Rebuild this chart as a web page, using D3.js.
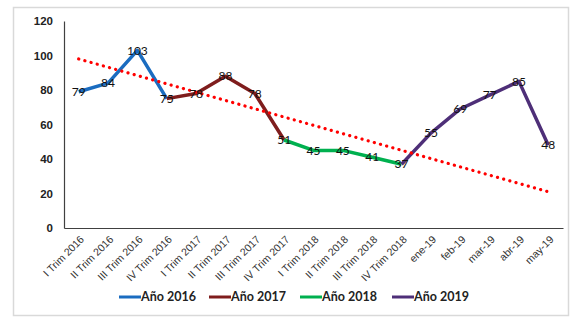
<!DOCTYPE html>
<html>
<head>
<meta charset="utf-8">
<script src="https://cdn.jsdelivr.net/npm/d3@7/dist/d3.min.js"></script>
<style>
  html, body { margin: 0; padding: 0; background: #fff; }
  svg { display: block; font-family: Lato, "Open Sans", "Liberation Sans", sans-serif; }
</style>
</head>
<body>
<svg id="chart" width="580" height="336"></svg>
<script>
// Period labels along the x axis
const categories = [
  "I Trim 2016", "II Trim 2016", "III Trim 2016", "IV Trim 2016",
  "I Trim 2017", "II Trim 2017", "III Trim 2017", "IV Trim 2017",
  "I Trim 2018", "II Trim 2018", "III Trim 2018", "IV Trim 2018",
  "ene-19", "feb-19", "mar-19", "abr-19", "may-19"
];

// Each year's segment: starting category index and values
const names2016 = "Año 2016", start2016 = 0, values2016 = [79, 84, 103, 75];
const names2017 = "Año 2017", start2017 = 3, values2017 = [75, 78, 88, 78, 51];
const names2018 = "Año 2018", start2018 = 7, values2018 = [51, 45, 45, 41, 37];
const names2019 = "Año 2019", start2019 = 11, values2019 = [37, 55, 69, 77, 85, 48];

// Linear trend line: value at first and last category
const trendValues = [98, 21];

const yTicks = [0, 20, 40, 60, 80, 100, 120];

const series = [
  { name: names2016, start: start2016, values: values2016, color: "#1a6cc0" },
  { name: names2017, start: start2017, values: values2017, color: "#7f1d1d" },
  { name: names2018, start: start2018, values: values2018, color: "#00b04f" },
  { name: names2019, start: start2019, values: values2019, color: "#4e2f78" }
];

const svg = d3.select("#chart");
const margin = { left: 64, right: 17, top: 21, bottom: 108 };
const W = 580, H = 336;

// Chart frame
svg.append("rect")
  .attr("x", 13.5).attr("y", 7.5).attr("width", 555).attr("height", 308)
  .attr("fill", "#fff").attr("stroke", "#d9d9d9").attr("stroke-width", 1.5);

const x = d3.scaleBand().domain(categories).range([margin.left, W - margin.right]);
const y = d3.scaleLinear().domain([0, 120]).range([H - margin.bottom, margin.top]);
const cx = i => x(categories[i]) + x.bandwidth() / 2;

// Y axis
const yAxis = svg.append("g")
  .attr("transform", `translate(${margin.left},0)`)
  .call(d3.axisLeft(y).tickValues(yTicks).tickSize(0).tickPadding(11));
yAxis.select(".domain").attr("stroke", "#404040").attr("stroke-width", 1.2);
yAxis.selectAll("text")
  .attr("font-size", 11.5).attr("font-weight", "bold").attr("fill", "#222");

// X axis
const xAxis = svg.append("g")
  .attr("transform", `translate(0,${y(0)})`)
  .call(d3.axisBottom(x).tickSize(0).tickPadding(0));
xAxis.select(".domain").attr("stroke", "#404040").attr("stroke-width", 1.2);
xAxis.selectAll("text")
  .attr("font-size", 10.5).attr("fill", "#333")
  .attr("text-anchor", "end")
  .attr("dy", null)
  .attr("transform", "translate(6,12) rotate(-45)");

// Series lines
const line = d3.line().x(d => cx(d.i)).y(d => y(d.v));
series.forEach(s => {
  const pts = s.values.map((v, k) => ({ i: s.start + k, v }));
  svg.append("path")
    .datum(pts)
    .attr("d", line)
    .attr("fill", "none")
    .attr("stroke", s.color)
    .attr("stroke-width", 3.5)
    .attr("stroke-linejoin", "round");
});

// Dotted trend line
svg.append("line")
  .attr("x1", cx(0)).attr("y1", y(trendValues[0]))
  .attr("x2", cx(categories.length - 1)).attr("y2", y(trendValues[1]))
  .attr("stroke", "#ff0000").attr("stroke-width", 3.2)
  .attr("stroke-linecap", "round")
  .attr("stroke-dasharray", "0.1 6.3");

// Data labels (one per category)
const labelData = [];
series.forEach(s => s.values.forEach((v, k) => {
  const i = s.start + k;
  if (!labelData.find(d => d.i === i)) labelData.push({ i, v });
}));
svg.append("g").selectAll("text")
  .data(labelData)
  .join("text")
  .attr("x", d => cx(d.i))
  .attr("y", d => y(d.v))
  .attr("dy", "0.35em")
  .attr("text-anchor", "middle")
  .attr("font-size", 12)
  .attr("fill", "#111")
  .text(d => d.v);

// Legend
const legendX = [119, 209, 300, 392];
const legend = svg.append("g");
series.forEach((s, k) => {
  const g = legend.append("g").attr("transform", `translate(${legendX[k]},297)`);
  g.append("line").attr("x1", 0).attr("x2", 22).attr("y1", 0).attr("y2", 0)
    .attr("stroke", s.color).attr("stroke-width", 3);
  g.append("text").attr("x", 22).attr("y", 0).attr("dy", "0.35em")
    .attr("font-size", 12.5).attr("font-weight", "bold").attr("fill", "#222")
    .text(s.name);
});
</script>
</body>
</html>
